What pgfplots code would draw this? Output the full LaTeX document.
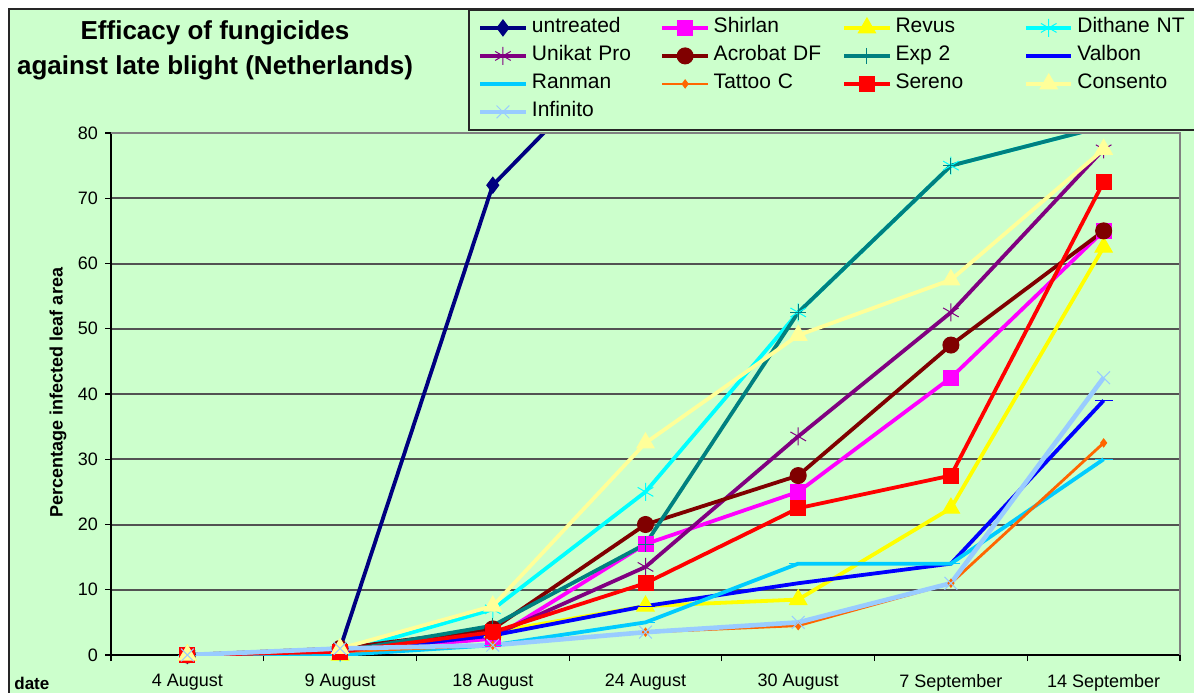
\documentclass[border=0pt]{standalone}
\usepackage{fontspec}
\setmainfont{Liberation Sans}
\usepackage{pgfplots}
\pgfplotsset{compat=1.18}
\definecolor{bg}{RGB}{204,255,204}
\definecolor{cUn}{RGB}{0,0,128}
\definecolor{cSh}{RGB}{255,0,255}
\definecolor{cRe}{RGB}{255,255,0}
\definecolor{cDi}{RGB}{0,255,255}
\definecolor{cUk}{RGB}{128,0,128}
\definecolor{cAc}{RGB}{128,0,0}
\definecolor{cEx}{RGB}{0,128,128}
\definecolor{cVa}{RGB}{0,0,255}
\definecolor{cRa}{RGB}{0,204,255}
\definecolor{cTa}{RGB}{255,102,0}
\definecolor{cSe}{RGB}{255,0,0}
\definecolor{cCo}{RGB}{255,255,153}
\definecolor{cIn}{RGB}{153,204,255}
\begin{document}
\begin{tikzpicture}
\useasboundingbox (0,0) rectangle (597pt,346pt);
\clip (0,0) rectangle (597pt,346pt);
\fill[white] (0,0) rectangle (597pt,346pt);
\filldraw[fill=bg, draw=black!85, line width=0.9pt] (4.5pt,-10pt) rectangle (610pt,341.5pt);
\begin{axis}[
  at={(55.5pt,18.5pt)}, anchor=south west,
  scale only axis, width=534.5pt, height=261pt,
  xmin=-0.5, xmax=6.5, ymin=0, ymax=80,
  axis x line*=bottom, axis y line*=left,
  axis line style={-, black, line width=0.6pt},
  ytick={0,10,...,80},
  ymajorgrids, grid style={black!68, line width=1pt},
  xtick={-0.5,0.5,...,6.5}, xticklabels={},
  extra x ticks={0,1,2,3,4,5,6},
  extra x tick labels={4 August, 9 August, 18 August, 24 August, 30 August, 7 September, 14 September},
  extra x tick style={major tick length=0pt, grid=none},
  tick align=outside, major tick length=3pt,
  tick style={black, line width=0.6pt},
  ticklabel style={font=\fontsize{9}{11}\selectfont},
  /pgf/number format/assume math mode=true,
  xticklabel style={yshift=-6pt},
  every axis plot/.append style={line width=1.9pt, mark options={solid, line width=0.5pt}},
  legend image code/.code={\draw[mark repeat=2,mark phase=2] plot coordinates {(0pt,0pt)(11.35pt,0pt)(22.7pt,0pt)};},
  legend columns=4,
  legend cell align=left,
  legend style={
    at={(axis description cs:0.334,1.2375)}, anchor=north west,
    fill=bg, draw=black!85, line width=0.9pt,
    font=\fontsize{10.5}{12.6}\selectfont,
    inner xsep=4.5pt, inner ysep=2pt,
    column sep=0pt, row sep=0pt,
    nodes={text width=62.3pt, text height=7.5pt, text depth=2.5pt, inner xsep=2pt, inner ysep=2pt},
  },
]
\addplot[color=cUn, mark=diamond*, mark size=4pt] coordinates {(0,0)(1,1)(2,72)(3,96)(4,100)(5,100)(6,100)};
\addlegendentry{untreated}
\addplot[color=cSh, mark=square*, mark size=3.75pt] coordinates {(0,0)(1,0.5)(2,2.5)(3,17)(4,25)(5,42.5)(6,65)};
\addlegendentry{Shirlan}
\addplot[color=cRe, mark=triangle*, mark size=5pt] coordinates {(0,0)(1,0)(2,3.5)(3,7.5)(4,8.5)(5,22.5)(6,62.5)};
\addlegendentry{Revus}
\addplot[color=cDi, mark=asterisk, mark size=4.5pt] coordinates {(0,0)(1,0.3)(2,7)(3,25)(4,52.5)(5,75)(6,81)};
\addlegendentry{Dithane NT}
\addplot[color=cUk, mark=asterisk, mark size=4.5pt] coordinates {(0,0)(1,0.5)(2,3)(3,13.5)(4,33.5)(5,52.5)(6,77.5)};
\addlegendentry{Unikat Pro}
\addplot[color=cAc, mark=*, mark size=4pt] coordinates {(0,0)(1,1)(2,4)(3,20)(4,27.5)(5,47.5)(6,65)};
\addlegendentry{Acrobat DF}
\addplot[color=cEx, mark=+, mark size=4pt] coordinates {(0,0)(1,0.5)(2,4.5)(3,17)(4,52.5)(5,75)(6,81)};
\addlegendentry{Exp 2}
\addplot[color=cVa, mark=-, mark size=4.5pt] coordinates {(0,0)(1,0.5)(2,3)(3,7.5)(4,11)(5,14)(6,39)};
\addlegendentry{Valbon}
\addplot[color=cRa, mark=-, mark size=4.5pt] coordinates {(0,0)(1,0)(2,1.5)(3,5)(4,14)(5,14)(6,30)};
\addlegendentry{Ranman}
\addplot[color=cTa, line width=1.4pt, mark=diamond*, mark size=2pt] coordinates {(0,0)(1,0.5)(2,1.5)(3,3.5)(4,4.5)(5,11)(6,32.5)};
\addlegendentry{Tattoo C}
\addplot[color=cSe, mark=square*, mark size=3.75pt] coordinates {(0,0)(1,0.5)(2,3.5)(3,11)(4,22.5)(5,27.5)(6,72.5)};
\addlegendentry{Sereno}
\addplot[color=cCo, mark=triangle*, mark size=5pt] coordinates {(0,0)(1,1)(2,7.5)(3,32.5)(4,49)(5,57.5)(6,77.5)};
\addlegendentry{Consento}
\addplot[color=cIn, line width=2.3pt, mark=x, mark size=4.5pt] coordinates {(0,0)(1,1)(2,1.5)(3,3.5)(4,5)(5,11)(6,42.5)};
\addlegendentry{Infinito}
\end{axis}
\draw[gray, line width=0.6pt] (55.5pt,279.5pt) -- (590pt,279.5pt) -- (590pt,18.5pt);
\node[font=\bfseries\fontsize{13}{17.5}\selectfont, align=center] at (107.5pt,320.75pt) {Efficacy of fungicides\\against late blight (Netherlands)};
\node[font=\bfseries\fontsize{9}{11}\selectfont, rotate=90] at (29pt,149.75pt) {Percentage infected leaf area};
\node[font=\bfseries\fontsize{8.5}{10}\selectfont, anchor=west, inner sep=0pt] at (7pt,4.5pt) {date};
\end{tikzpicture}
\end{document}
